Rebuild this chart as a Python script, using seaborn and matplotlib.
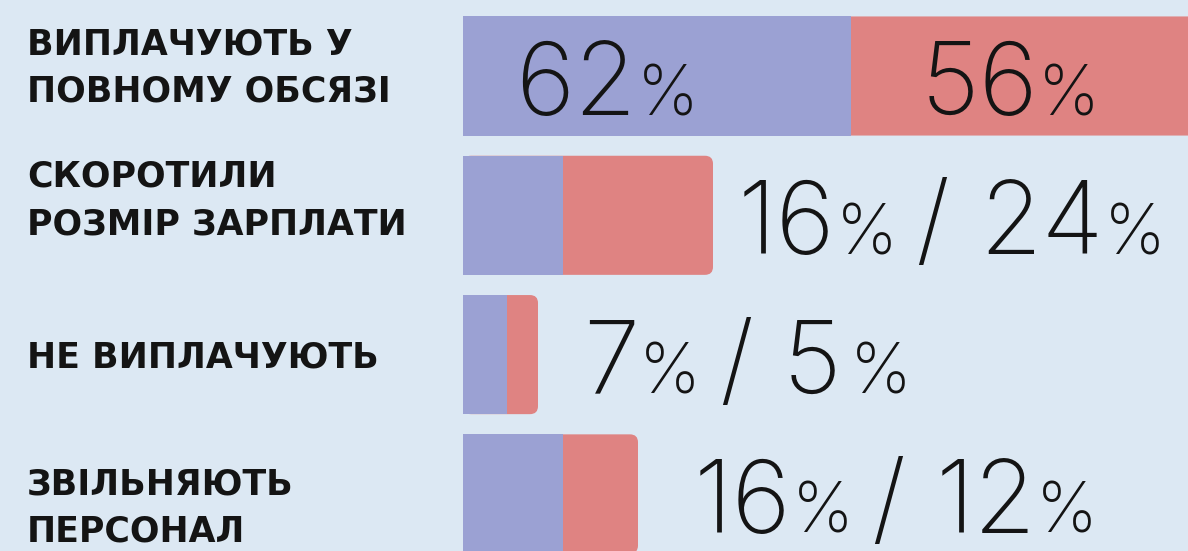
import matplotlib
matplotlib.use("Agg")
import matplotlib.pyplot as plt
import seaborn as sns
from matplotlib.patches import FancyBboxPatch
from matplotlib.transforms import blended_transform_factory

# ===== data =====
categories = [
    "ВИПЛАЧУЮТЬ У\nПОВНОМУ ОБСЯЗІ",
    "СКОРОТИЛИ\nРОЗМІР ЗАРПЛАТИ",
    "НЕ ВИПЛАЧУЮТЬ",
    "ЗВІЛЬНЯЮТЬ\nПЕРСОНАЛ",
]
blue_values = [62, 16, 7, 16]
red_values = [56, 24, 5, 12]
red_pct_sign = ["%", "%", " %", "%"]   # the reference writes "5 %"

# ===== style =====
BG = "#dce8f3"
BLUE = "#9ba1d3"
RED = "#df8382"
INK = "#141414"
PX_PER_UNIT = 6.25          # pixels per percent on the bar axis
ROW_PX = 139.3              # distance between rows in pixels
BAR_W = 0.855
label_shift_px = [-8, -15, 3, 14]   # vertical nudge of the left labels
value_gap_px = [0, 25, 45, 56]      # gap between bar end and value text
BIG, SMALL = 73, 50
SPACE_PRE, SPACE_POST, SPACE_PCT = 46, 76, 22
NUM_FONT = "Inter"
NUM_WEIGHT = 200

sns.set_style("white")
plt.rcParams["font.family"] = ["DejaVu Sans"]

W, H = 1188, 551
fig = plt.figure(figsize=(W / 100, H / 100), dpi=100, facecolor=BG)
left_px = 463
ax = fig.add_axes([left_px / W, 0, (W - left_px) / W, 1])
ax.set_facecolor("none")

totals = [b + r for b, r in zip(blue_values, red_values)]

# red = full stack, blue drawn on top
sns.barplot(x=totals, y=categories, orient="h", color=RED, width=BAR_W,
            saturation=1, linewidth=0, ax=ax, zorder=1)
red_patches = list(ax.patches)
sns.barplot(x=blue_values, y=categories, orient="h", color=BLUE, width=BAR_W,
            saturation=1, linewidth=0, ax=ax, zorder=2)

xmax = (W - left_px) / PX_PER_UNIT
ax.set_xlim(0, xmax)
top = -76 / ROW_PX
ax.set_ylim(top + H / ROW_PX, top)

# round the right corners of the red segments
rad_x = 8 / PX_PER_UNIT
rad_y = 8 / ROW_PX
for p in red_patches:
    x, y = p.get_x(), p.get_y()
    w, h = p.get_width(), p.get_height()
    p.set_visible(False)
    fb = FancyBboxPatch((x, y), w, h,
                        boxstyle=f"round,pad=0,rounding_size={rad_x}",
                        mutation_aspect=rad_y / rad_x,
                        facecolor=RED, edgecolor="none", zorder=1)
    ax.add_patch(fb)

ax.set_axis_off()

# left labels
trans = blended_transform_factory(fig.transFigure, ax.transData)
for i, lab in enumerate(categories):
    ax.text(27 / W, i + label_shift_px[i] / ROW_PX, lab, transform=trans,
            ha="left", va="center", fontsize=25, fontweight="bold",
            color=INK, linespacing=1.5, family="DejaVu Sans")


def draw_chain(x0, y, pieces):
    prev = None
    for txt, size in pieces:
        kw = dict(fontsize=size, color=INK, va="baseline", ha="left",
                  family=NUM_FONT, fontweight=NUM_WEIGHT, zorder=5)
        if prev is None:
            prev = ax.text(x0, y, txt, **kw)
        else:
            prev = ax.annotate(txt, xy=(1, y), xycoords=(prev, "data"), **kw)


def pct_pieces(sign):
    if sign.startswith(" "):
        return [(" ", SPACE_PCT), ("%", SMALL)]
    return [("%", SMALL)]


base = 0.28
# first row: numbers inside the bar segments
draw_chain(8.3, 0 + base, [(str(blue_values[0]), BIG), ("%", SMALL)])
draw_chain(blue_values[0] + 11.2, 0 + base,
           [(str(red_values[0]), BIG)] + pct_pieces(red_pct_sign[0]))

for i in range(1, len(categories)):
    x0 = totals[i] + value_gap_px[i] / PX_PER_UNIT
    draw_chain(x0, i + base,
               [(str(blue_values[i]), BIG), ("%", SMALL),
                (" ", SPACE_PRE), ("/", BIG), (" ", SPACE_POST),
                (str(red_values[i]), BIG)] + pct_pieces(red_pct_sign[i]))

fig.savefig("out.png", dpi=100, facecolor=BG)
